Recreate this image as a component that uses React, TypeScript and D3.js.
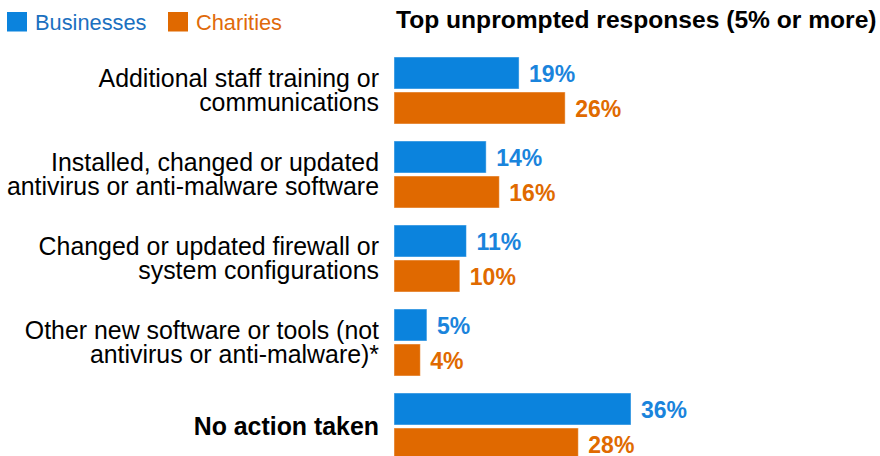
import React from "react";
import * as d3 from "d3";

const categories: string[][] = [
  ["Additional staff training or", "communications"],
  ["Installed, changed or updated", "antivirus or anti-malware software"],
  ["Changed or updated firewall or", "system configurations"],
  ["Other new software or tools (not", "antivirus or anti-malware)*"],
  ["No action taken"],
];
const boldCategory = [false, false, false, false, true];
const seriesNames = ["Businesses", "Charities"];
const businesses = [19, 14, 11, 5, 36];
const charities = [26, 16, 10, 4, 28];
const title = "Top unprompted responses (5% or more)";

const W = 880;
const H = 456;
const BLUE = "#0b83dd";
const ORANGE = "#e06900";
const FONT = "'Liberation Sans', Arial, Helvetica, sans-serif";

export default function App() {
  const x = d3.scaleLinear().domain([0, 36]).range([394, 631]);
  const idx = categories.map((_, i) => String(i));
  const y = d3.scaleBand<string>().domain(idx).range([57, 460]).paddingInner(17 / 84).paddingOuter(0);
  const ys = d3.scaleBand<string>().domain(seriesNames).range([0, y.bandwidth()]).paddingInner(3 / 35);
  const series = [
    { name: seriesNames[0], values: businesses, color: BLUE, text: "#1a84dc" },
    { name: seriesNames[1], values: charities, color: ORANGE, text: "#e06a00" },
  ];
  const fmt = (v: number) => `${v}%`;
  return (
    <svg width={W} height={H} style={{ position: "absolute", left: 0, top: 0 }} fontFamily={FONT}>
      <style>{`body{margin:0}`}</style>
      <rect x={0} y={0} width={W} height={H} fill="#fff" />
      {/* legend */}
      <rect x={7} y={12} width={20} height={19.5} fill={BLUE} />
      <text x={35} y={29.5} fontSize={21.8} fill="#1b70c0">Businesses</text>
      <rect x={168} y={12} width={20} height={19.5} fill={ORANGE} />
      <text x={196} y={29.5} fontSize={21.8} fill="#e06a0a">Charities</text>
      {/* title */}
      <text x={396} y={27.5} fontSize={24.6} fontWeight="bold" fill="#000">{title}</text>
      {categories.map((lines, i) => {
        const g0 = y(String(i))!;
        const c = g0 + y.bandwidth() / 2;
        return (
          <g key={i}>
            {lines.length === 1 ? (
              <text x={379} y={c + 8.5} textAnchor="end" fontSize={24.9} fontWeight={boldCategory[i] ? "bold" : "normal"} fill="#000">
                {lines[0]}
              </text>
            ) : (
              lines.map((l, j) => (
                <text key={j} x={379} y={c - 3.5 + j * 23.5} textAnchor="end" fontSize={24.9} fontWeight={boldCategory[i] ? "bold" : "normal"} fill="#000">
                  {l}
                </text>
              ))
            )}
            {series.map((s) => {
              const by = g0 + ys(s.name)!;
              const v = s.values[i];
              return (
                <g key={s.name}>
                  <rect x={x(0)} y={by} width={x(v) - x(0)} height={ys.bandwidth()} fill={s.color} stroke="rgba(255,255,255,0.45)" strokeWidth={1} />
                  <text x={x(v) + 10} y={by + ys.bandwidth() / 2 + 8.5} fontSize={23} fontWeight="bold" fill={s.text}>
                    {fmt(v)}
                  </text>
                </g>
              );
            })}
          </g>
        );
      })}
    </svg>
  );
}
